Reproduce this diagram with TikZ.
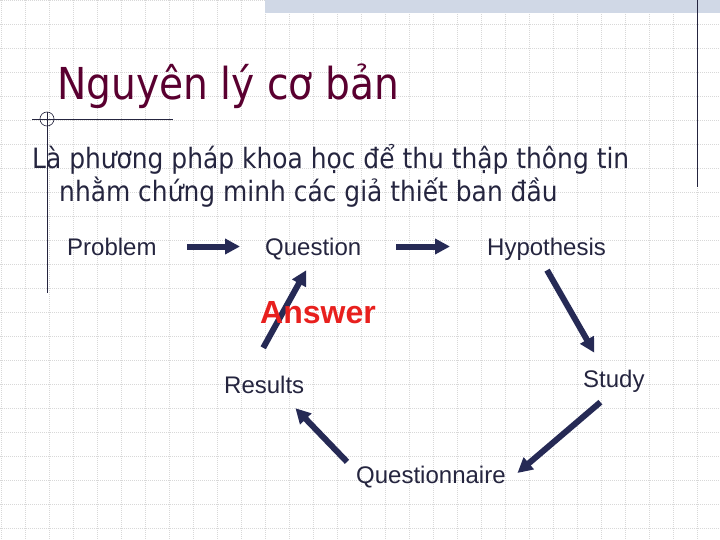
\documentclass[tikz,border=0pt]{standalone}
\usepackage{fontspec}
\usetikzlibrary{arrows.meta}
\setmainfont{Liberation Sans}
\newfontfamily\slidefont[FakeStretch=0.89]{DejaVu Sans}

\definecolor{arrowblue}{HTML}{262A55}
\definecolor{textblue}{HTML}{25253F}
\definecolor{titlered}{HTML}{5A0030}
\definecolor{answerred}{HTML}{E8201E}
\definecolor{gridgray}{HTML}{D8D8D8}
\definecolor{bandblue}{HTML}{D0D8E6}

\begin{document}
\begin{tikzpicture}[x=1pt,y=-1pt,
  gridline/.style={gridgray,line width=0.6pt,dash pattern=on 1pt off 1pt},
  label/.style={inner sep=0pt,anchor=base west,text height=17pt,text depth=0pt,
    text=textblue,font=\fontsize{24}{28}\selectfont},
  flow/.style={arrowblue,line width=6pt,-{Triangle[length=15pt,width=15pt]}}]

\useasboundingbox (0,0) rectangle (720,540);
\fill[white] (0,0) rectangle (720,540);

% background grid
\foreach \x in {1,25,...,721}
  \draw[gridline] (\x,0) -- (\x,540);
\foreach \y in {0,24,...,540}
  \draw[gridline] (0,\y) -- (720,\y);

\fill[bandblue] (265,0) rectangle (720,13);
\draw[textblue,line width=1pt] (697,0) -- (697,187);

\draw[textblue,line width=0.8pt] (32,119) -- (173,119);
\draw[textblue,line width=0.8pt] (47,112) -- (47,293);
\draw[textblue,line width=0.6pt] (47,119) circle (7);

\node[inner sep=0pt,anchor=base west,text=titlered,
  font=\slidefont\fontsize{44}{50}\selectfont] (title) at (57,100) {Nguyên lý cơ bản};
\node[inner sep=0pt,anchor=base west,text=textblue,
  font=\slidefont\fontsize{28}{32}\selectfont] (line1) at (32,169) {Là phương pháp khoa học để thu thập thông tin};
\node[inner sep=0pt,anchor=base west,text=textblue,
  font=\slidefont\fontsize{28}{32}\selectfont] (line2) at (59,202) {nhằm chứng minh các giả thiết ban đầu};

\node[label] (problem) at (67,255) {Problem};
\node[label] (question) at (265,255) {Question};
\node[label] (hypothesis) at (487,255) {Hypothesis};
\node[label] (study) at (583,387) {Study};
\node[label] (questionnaire) at (356,483) {Questionnaire};
\node[label] (results) at (224,393) {Results};

\draw[flow,shorten <=30pt,shorten >=25pt] (problem) -- (question);
\draw[flow,shorten <=35pt,shorten >=37pt] (question) -- (hypothesis);
\draw[flow] ([xshift=0.5pt,yshift=-15pt]hypothesis.south) -- ([xshift=-19.5pt,yshift=17pt]study.north);
\draw[flow] ([xshift=-13.5pt,yshift=-15pt]study.south) -- ([xshift=11.6pt,yshift=1.5pt]questionnaire.east);
\draw[flow] ([xshift=-9pt,yshift=4pt]questionnaire.north west) -- ([xshift=-9pt,yshift=-15pt]results.south east);
\draw[flow] ([xshift=-1pt,yshift=28pt]results.north) -- ([xshift=-7pt,yshift=-15pt]question.south);

\node[inner sep=0pt,anchor=base west,text=answerred,
  font=\bfseries\fontsize{32}{36}\selectfont] (answer) at (260,323) {Answer};

\end{tikzpicture}
\end{document}
